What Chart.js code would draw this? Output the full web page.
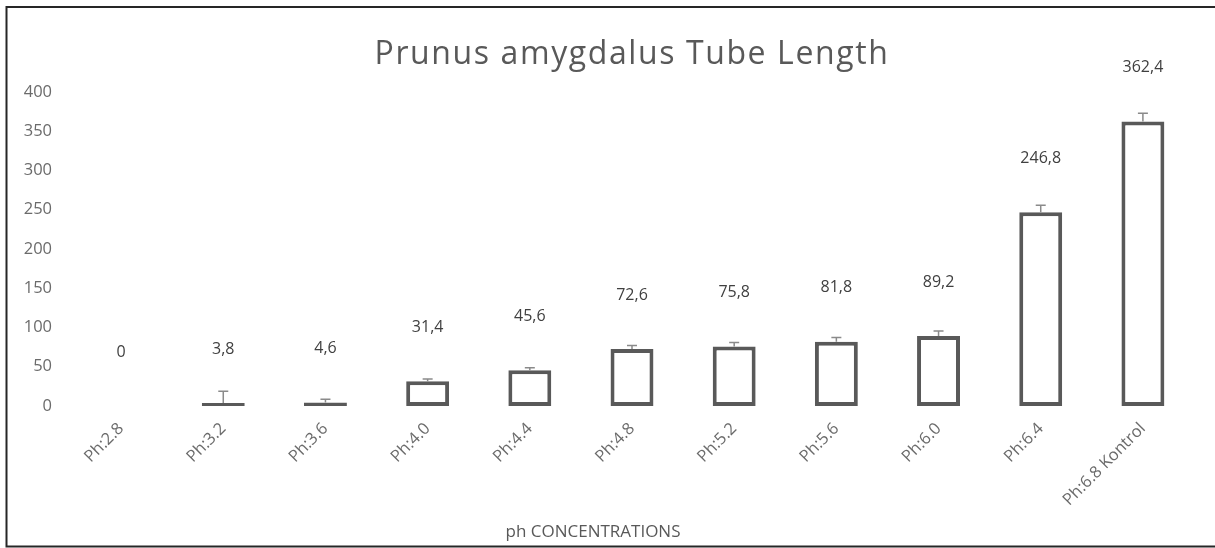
<!DOCTYPE html>
<html>
<head>
<meta charset="utf-8">
<script src="https://cdn.jsdelivr.net/npm/chart.js@4.4.0/dist/chart.umd.min.js"></script>
<style>
  html, body { margin: 0; padding: 0; background: #fff; }
  #wrap { position: relative; width: 1215px; height: 548px; }
</style>
</head>
<body>
<div id="wrap"><canvas id="chart" width="1215" height="548"></canvas></div>
<script>
// data
const categories = ["Ph:2.8", "Ph:3.2", "Ph:3.6", "Ph:4.0", "Ph:4.4", "Ph:4.8",
    "Ph:5.2", "Ph:5.6", "Ph:6.0", "Ph:6.4", "Ph:6.8 Kontrol"];
const tubeLength = [0, 3.8, 4.6, 31.4, 45.6, 72.6, 75.8, 81.8, 89.2, 246.8, 362.4];
const errorPlus = [0, 15, 4, 3, 3, 4.5, 5, 5.5, 6.5, 9, 10.5];
const yTicks = [0, 50, 100, 150, 200, 250, 300, 350, 400];

const titleText = "Prunus amygdalus Tube Length";
const xTitleText = "ph CONCENTRATIONS";
const FONT = "'Open Sans', 'Liberation Sans', sans-serif";

// frame + titles
const framePlugin = {
    id: "frame",
    beforeDraw(chart) {
        const ctx = chart.ctx;
        ctx.save();
        ctx.fillStyle = "#fff";
        ctx.fillRect(0, 0, chart.width, chart.height);
        ctx.strokeStyle = "#262626";
        ctx.lineWidth = 2;
        ctx.beginPath();
        ctx.moveTo(1216, 7);
        ctx.lineTo(6.5, 7);
        ctx.lineTo(6.5, 546.5);
        ctx.lineTo(1216, 546.5);
        ctx.stroke();
        ctx.restore();
    },
    afterDraw(chart) {
        const ctx = chart.ctx;
        ctx.save();
        ctx.fillStyle = "#595959";
        ctx.textAlign = "center";
        ctx.textBaseline = "middle";
        ctx.font = "32px " + FONT;
        ctx.letterSpacing = "1.6px";
        ctx.fillText(titleText, 632, 55);
        ctx.letterSpacing = "0px";
        ctx.font = "17px " + FONT;
        ctx.fillText(xTitleText, 593, 532);
        ctx.restore();
    },
};

// error bars (plus only) and value labels above the bars
const barExtras = {
    id: "barExtras",
    afterDatasetsDraw(chart) {
        const ctx = chart.ctx;
        const y = chart.scales.y;
        const meta = chart.getDatasetMeta(0);
        ctx.save();
        meta.data.forEach((bar, i) => {
            const v = tubeLength[i];
            const e = errorPlus[i];
            if (e > 0) {
                const yTop = y.getPixelForValue(v + e);
                ctx.strokeStyle = "#8a8a8a";
                ctx.lineWidth = 1.5;
                ctx.beginPath();
                ctx.moveTo(bar.x, bar.y);
                ctx.lineTo(bar.x, yTop);
                ctx.moveTo(bar.x - 5, yTop);
                ctx.lineTo(bar.x + 5, yTop);
                ctx.stroke();
            }
            ctx.fillStyle = "#404040";
            ctx.font = "16px " + FONT;
            ctx.textAlign = "center";
            ctx.textBaseline = "middle";
            ctx.fillText(String(v).replace(".", ","), bar.x, bar.y - 54);
        });
        ctx.restore();
    },
};

new Chart(document.getElementById("chart"), {
    type: "bar",
    data: {
        labels: categories,
        datasets: [{
            data: tubeLength,
            backgroundColor: "#ffffff",
            borderColor: "#595959",
            borderWidth: 4,
            borderSkipped: false,
            barPercentage: 0.42,
            categoryPercentage: 1,
        }],
    },
    options: {
        responsive: false,
        animation: false,
        events: [],
        layout: { padding: { left: 0, right: 21, top: 92, bottom: 0 } },
        plugins: {
            legend: { display: false },
            tooltip: { enabled: false },
            title: { display: false },
        },
        scales: {
            x: {
                grid: { display: false, drawTicks: false },
                border: { display: false },
                ticks: {
                    autoSkip: false,
                    minRotation: 45,
                    maxRotation: 45,
                    padding: 13,
                    color: "#6b6b6b",
                    font: { family: FONT, size: 16.5 },
                },
                afterFit(scale) { scale.height = 142; },
            },
            y: {
                min: 0,
                max: 400,
                grid: { display: false, drawTicks: false },
                border: { display: false },
                afterBuildTicks(scale) { scale.ticks = yTicks.map(v => ({ value: v })); },
                ticks: {
                    padding: 18,
                    color: "#6b6b6b",
                    font: { family: FONT, size: 16.5 },
                },
                afterFit(scale) { scale.width = 70; },
            },
        },
    },
    plugins: [framePlugin, barExtras],
});
</script>
</body>
</html>
